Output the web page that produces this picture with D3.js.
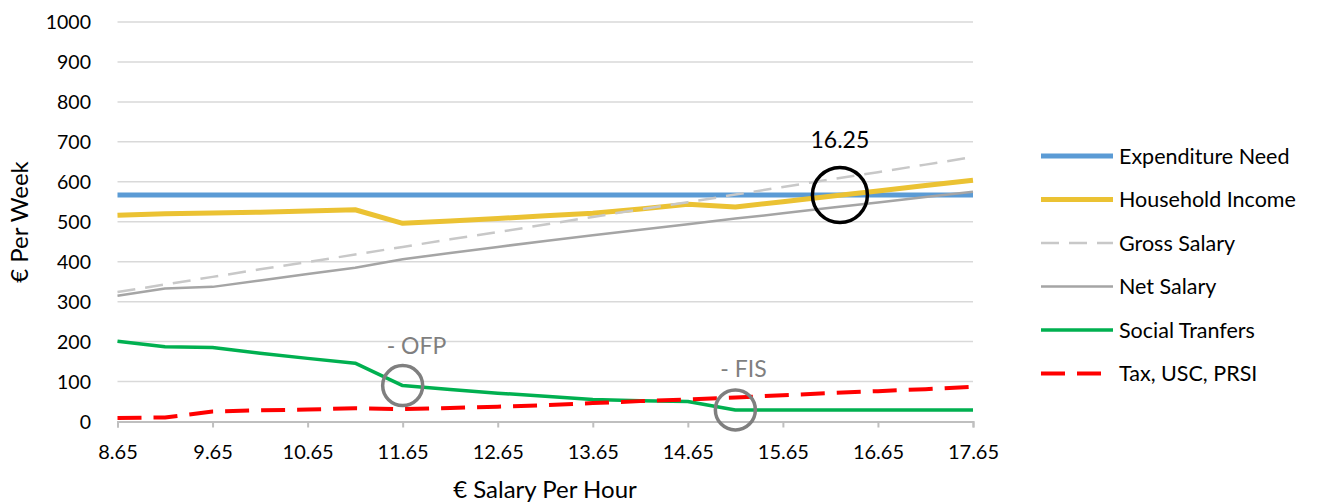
<!DOCTYPE html>
<html><head><meta charset="utf-8">
<script src="https://cdn.jsdelivr.net/npm/d3@7"></script>
<style>body{margin:0;background:#fff}svg{display:block;font-family:Lato,"Open Sans",sans-serif}</style>
</head><body><svg id="c" width="1319" height="504"></svg>
<script>
const wages = [8.65,9.15,9.65,10.15,10.65,11.15,11.65,12.15,12.65,13.15,13.65,14.15,14.65,15.15,15.65,16.15,16.65,17.15,17.65];
const expenditureNeed = [567,567,567,567,567,567,567,567,567,567,567,567,567,567,567,567,567,567,567];
const householdIncome = [516,520,522,524,527,530,496,502,508,515,521,532,544,537,550,564,577,591,604];
const grossSalary = [324,343,362,381,399,418,437,456,474,493,512,531,549,568,587,606,624,643,662];
const netSalary = [315,333,337,353,369,385,406,422,437,452,466,480,494,508,521,535,548,562,575];
const socialTransfers = [201,187,185,171,158,146,90,80,71,63,55,52,50,29,29,29,29,29,29];
const taxUscPrsi = [9,10,25,28,30,33,31,34,37,41,46,51,55,60,66,71,76,81,87];
const xTicks = [8.65,9.65,10.65,11.65,12.65,13.65,14.65,15.65,16.65,17.65];
const yTicks = [0,100,200,300,400,500,600,700,800,900,1000];

const series = [
  {name:"Expenditure Need", values:expenditureNeed, color:"#5b9bd5", w:5, dash:null},
  {name:"Household Income", values:householdIncome, color:"#ebc233", w:5, dash:null},
  {name:"Gross Salary", values:grossSalary, color:"#c8c8c8", w:2.5, dash:"18,10"},
  {name:"Net Salary", values:netSalary, color:"#a5a5a5", w:2.5, dash:null},
  {name:"Social Tranfers", values:socialTransfers, color:"#00b050", w:3.5, dash:null},
  {name:"Tax, USC, PRSI", values:taxUscPrsi, color:"#ff0000", w:4, dash:"24,12"}
];

const svg = d3.select("#c");
const x = d3.scaleLinear().domain([8.65,17.65]).range([117.5,973]);
const y = d3.scaleLinear().domain([0,1000]).range([421.5,22]);

// gridlines
svg.append("g").selectAll("line").data(yTicks.filter(d=>d>0)).join("line")
  .attr("x1",x(8.65)).attr("x2",x(17.65)).attr("y1",d=>y(d)).attr("y2",d=>y(d))
  .attr("stroke","#d9d9d9").attr("stroke-width",1.5);

// y labels
svg.append("g").selectAll("text").data(yTicks).join("text")
  .attr("x",91).attr("y",d=>y(d)+7).attr("text-anchor","end")
  .attr("font-size",19.5).attr("fill","#000").text(d=>d);

// x axis
const xa = svg.append("g").attr("transform",`translate(0,${y(0)})`)
  .call(d3.axisBottom(x).tickValues(xTicks).tickSize(6).tickPadding(0).tickFormat(d3.format(".2f")));
xa.select(".domain").attr("stroke","#bfbfbf").attr("stroke-width",2);
xa.selectAll(".tick line").attr("stroke","#bfbfbf").attr("stroke-width",2);
xa.selectAll(".tick text").attr("font-size",20).attr("font-family","Lato,'Open Sans',sans-serif")
  .attr("fill","#000").attr("y",37).attr("dy",null);

// lines
const line = vals => d3.line().x((d,i)=>x(wages[i])).y(d=>y(d))(vals);
svg.append("g").selectAll("path").data(series).join("path")
  .attr("d",s=>line(s.values)).attr("fill","none")
  .attr("stroke",s=>s.color).attr("stroke-width",s=>s.w)
  .attr("stroke-dasharray",s=>s.dash).attr("stroke-linejoin","round");

// annotations
svg.append("circle").attr("cx",x(11.65)).attr("cy",y(socialTransfers[6])).attr("r",20)
  .attr("fill","none").attr("stroke","#7f7f7f").attr("stroke-width",3.5);
svg.append("text").attr("x",x(11.65)-16).attr("y",354).attr("font-size",23).attr("fill","#7f7f7f").text("- OFP");
svg.append("circle").attr("cx",x(15.15)).attr("cy",y(socialTransfers[13])).attr("r",20)
  .attr("fill","none").attr("stroke","#7f7f7f").attr("stroke-width",3.5);
svg.append("text").attr("x",x(15.15)-15).attr("y",377).attr("font-size",23).attr("fill","#7f7f7f").text("- FIS");
svg.append("circle").attr("cx",x(16.25)).attr("cy",y(567)).attr("r",27.5)
  .attr("fill","none").attr("stroke","#000").attr("stroke-width",3.5);
svg.append("text").attr("x",x(16.25)).attr("y",148).attr("text-anchor","middle").attr("font-size",23).attr("fill","#000").text("16.25");

// axis titles
svg.append("text").attr("transform","translate(28,222) rotate(-90)").attr("text-anchor","middle")
  .attr("font-size",24).text("€ Per Week");
svg.append("text").attr("x",545).attr("y",498).attr("text-anchor","middle").attr("font-size",24).text("€ Salary Per Hour");

// legend
const lg = svg.append("g").selectAll("g").data(series).join("g")
  .attr("transform",(d,i)=>`translate(1041,${156+i*43.5})`);
lg.append("line").attr("x1",0).attr("x2",72).attr("stroke",d=>d.color)
  .attr("stroke-width",d=>d.w).attr("stroke-dasharray",d=>d.dash);
lg.append("text").attr("x",78).attr("y",7.5).attr("font-size",21.5).text(d=>d.name);
</script></body></html>
